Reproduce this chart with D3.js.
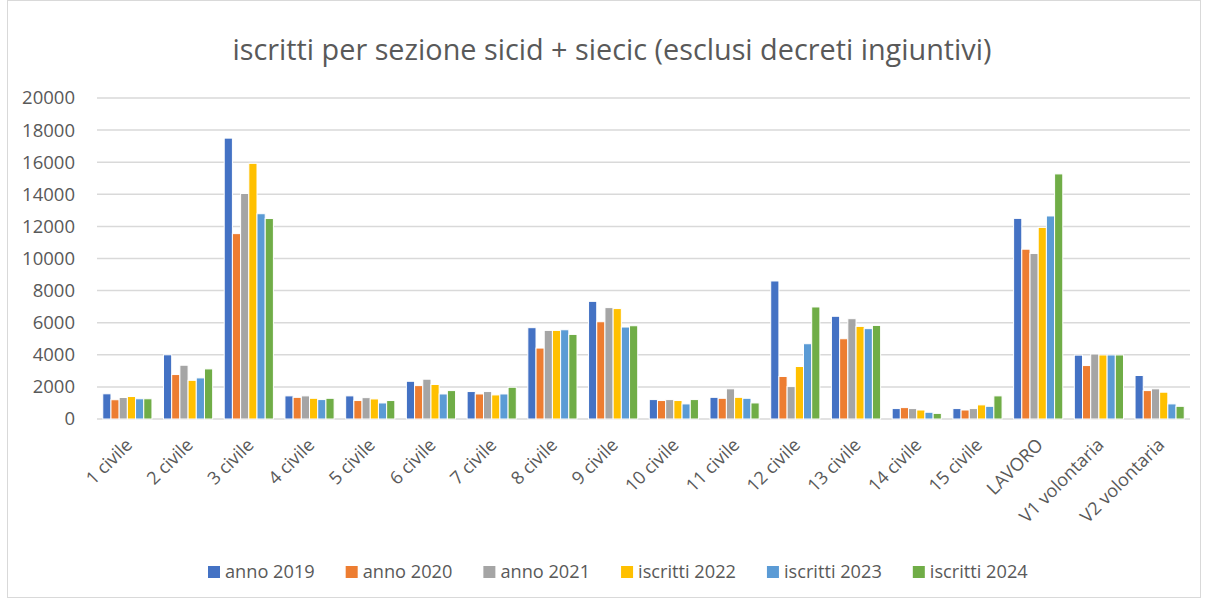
<!DOCTYPE html>
<html>
<head>
<meta charset="utf-8">
<script src="https://cdn.jsdelivr.net/npm/d3@7"></script>
<style>
  body { margin: 0; background: #fff; }
  svg { display: block; font-family: "Open Sans", "Noto Sans", sans-serif; }
</style>
</head>
<body>
<div id="chart"></div>
<script>
const categories = ['1 civile', '2 civile', '3 civile', '4 civile', '5 civile', '6 civile', '7 civile',
  '8 civile', '9 civile', '10 civile', '11 civile', '12 civile', '13 civile', '14 civile', '15 civile',
  'LAVORO', 'V1 volontaria', 'V2 volontaria'];

const seriesNames = ['anno 2019', 'anno 2020', 'anno 2021', 'iscritti 2022', 'iscritti 2023', 'iscritti 2024'];
const seriesColors = ['#4472C4', '#ED7D31', '#A5A5A5', '#FFC000', '#5B9BD5', '#70AD47'];

const anno2019 = [1570, 4000, 17500, 1440, 1440, 2350, 1710, 5690, 7330, 1210, 1350, 8600, 6400, 650, 650, 12500, 3980, 2710];
const anno2020 = [1200, 2770, 11550, 1350, 1150, 2080, 1560, 4420, 6060, 1150, 1290, 2650, 5000, 710, 560, 10580, 3330, 1770];
const anno2021 = [1340, 3350, 14050, 1440, 1330, 2480, 1710, 5520, 6940, 1210, 1880, 2020, 6250, 650, 650, 10310, 4050, 1880];
const iscritti2022 = [1400, 2410, 15930, 1290, 1250, 2150, 1500, 5520, 6880, 1150, 1350, 3270, 5770, 560, 880, 11940, 3990, 1670];
const iscritti2023 = [1260, 2560, 12790, 1210, 1000, 1560, 1560, 5560, 5730, 940, 1290, 4690, 5630, 420, 790, 12650, 3990, 940];
const iscritti2024 = [1260, 3120, 12490, 1290, 1150, 1770, 1980, 5270, 5810, 1210, 1000, 6980, 5830, 350, 1440, 15270, 3990, 790];

const yTicks = [0, 2000, 4000, 6000, 8000, 10000, 12000, 14000, 16000, 18000, 20000];

const seriesValues = [anno2019, anno2020, anno2021, iscritti2022, iscritti2023, iscritti2024];

const width = 1206, height = 601;
const plot = { left: 97, right: 1190, top: 98, bottom: 419 };
const textColor = '#595959';
const gridColor = '#d9d9d9';

const svg = d3.select('#chart').append('svg')
  .attr('width', width)
  .attr('height', height);

// chart border
svg.append('rect')
  .attr('x', 7.5).attr('y', 0.5)
  .attr('width', 1193).attr('height', 597)
  .attr('fill', '#fff')
  .attr('stroke', gridColor);

svg.append('text')
  .attr('x', 612).attr('y', 60)
  .attr('text-anchor', 'middle')
  .attr('fill', textColor)
  .attr('font-size', 28.8)
  .text('iscritti per sezione sicid + siecic (esclusi decreti ingiuntivi)');

const x = d3.scaleBand()
  .domain(categories)
  .range([plot.left, plot.right])
  .paddingInner(0.19)
  .paddingOuter(0.095);

const xs = d3.scaleBand()
  .domain(d3.range(seriesNames.length))
  .range([0, x.bandwidth()]);

const y = d3.scaleLinear()
  .domain([0, 20000])
  .range([plot.bottom, plot.top]);

// gridlines
svg.append('g')
  .selectAll('line')
  .data(yTicks)
  .join('line')
  .attr('x1', plot.left).attr('x2', plot.right)
  .attr('y1', d => y(d)).attr('y2', d => y(d))
  .attr('stroke', gridColor)
  .attr('stroke-width', 1.5);

// y axis labels
const yAxis = svg.append('g')
  .attr('transform', `translate(${plot.left}, 0)`)
  .call(d3.axisLeft(y).tickValues(yTicks).tickSize(0).tickPadding(22).tickFormat(d3.format('d')));
yAxis.select('.domain').remove();
yAxis.selectAll('text')
  .attr('fill', textColor)
  .attr('font-size', 18.5)
  .attr('font-family', '"Open Sans", sans-serif');

// bars
const groups = svg.append('g')
  .selectAll('g')
  .data(categories)
  .join('g')
  .attr('transform', d => `translate(${x(d)}, 0)`);

groups.selectAll('rect')
  .data((d, i) => seriesValues.map((vals, s) => ({ s, v: vals[i] })))
  .join('rect')
  .attr('x', d => xs(d.s))
  .attr('y', d => y(d.v))
  .attr('width', xs.bandwidth())
  .attr('height', d => y(0) - y(d.v))
  .attr('fill', d => seriesColors[d.s])
  .attr('stroke', '#fff')
  .attr('stroke-width', 1);

// x axis labels
svg.append('g')
  .selectAll('text')
  .data(categories)
  .join('text')
  .attr('transform', d => `translate(${x(d) + x.bandwidth() / 2 + 6}, 446) rotate(-45)`)
  .attr('text-anchor', 'end')
  .attr('fill', textColor)
  .attr('font-size', 18)
  .text(d => d);

// legend
const legend = svg.append('g').attr('transform', 'translate(208, 572)');
let lx = 0;
seriesNames.forEach((name, i) => {
  const g = legend.append('g').attr('transform', `translate(${lx}, 0)`);
  g.append('rect')
    .attr('x', 0).attr('y', -6)
    .attr('width', 12).attr('height', 12)
    .attr('fill', seriesColors[i]);
  const t = g.append('text')
    .attr('x', 17).attr('y', 0)
    .attr('dy', '0.35em')
    .attr('fill', textColor)
    .attr('font-size', 18.2)
    .text(name);
  lx += 17 + t.node().getComputedTextLength() + 31;
});
</script>
</body>
</html>
